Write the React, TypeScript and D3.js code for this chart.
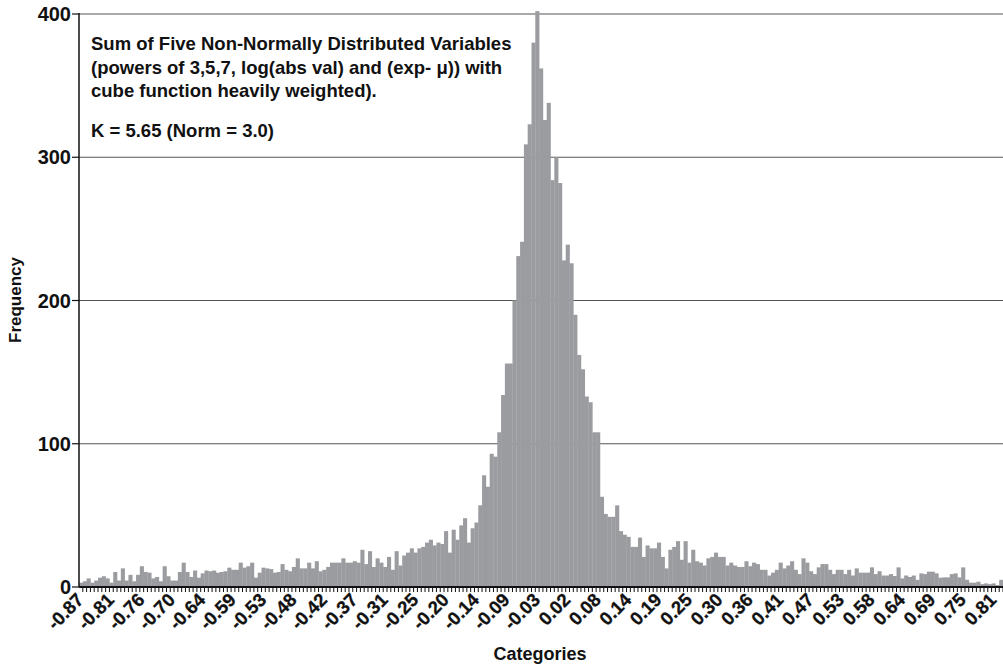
import React from "react";
import * as d3 from "d3";

// Frequency of each category bin
const frequencies: number[] = [
  3, 4, 6, 3, 4.5, 6.5, 7.5, 6, 3, 10.5, 4.5, 13, 4.5, 8.5, 4, 8.5, 14.5, 10.5, 10, 6,
  7, 4, 14.5, 7.5, 4.5, 4.5, 10.5, 17, 10.5, 7, 11.5, 6.5, 9.5, 11.5, 11, 11.5, 10, 10.5, 11, 13.5,
  12, 12, 17, 13.5, 14.5, 17, 6.5, 10, 13.5, 13,
  12.5, 10, 10.5, 16, 12, 11, 14, 20, 13, 13, 17, 13, 18, 11, 12, 14, 17, 17, 17, 20,
  17, 17, 18, 17, 26, 16, 25, 14, 20, 17, 14, 21, 12, 25, 15, 22, 24, 27, 24, 27,
  28, 31, 33, 29, 31, 30, 39, 24, 40, 33,
  43, 48, 31, 41, 45, 57, 78, 70, 93, 91, 108, 134, 156, 156, 200, 231, 241, 309, 323, 380,
  402, 362, 326, 338, 284, 300, 282, 228, 239, 226, 190, 162, 152, 133, 129, 108, 108, 63,
  51, 49, 49, 57, 39, 36.5, 35, 28, 28, 34.5, 21, 29, 27, 27, 31, 21, 13, 26, 28, 32,
  19, 32, 17, 26, 18, 17, 15, 20, 21, 24, 21, 21, 15, 17, 15, 14, 14, 18, 14.5, 17,
  16, 12, 12, 8, 10, 12, 17, 13, 15, 18, 12,
  9, 20, 17, 11, 9, 13.7, 16, 16, 12, 9, 12, 12, 9, 12, 8, 13, 10, 10, 10, 13.7,
  9, 11, 8, 8, 9, 7.7, 13.7, 6, 8, 7, 8, 5, 9.5, 9, 10.7, 10.7, 9.5, 6.5, 6.7, 6.7,
  9, 9.5, 6.7, 13.7, 5, 3, 3, 3.7, 2, 2.5, 2, 2.5, 1.4, 5,
];

// Category tick labels (every 8th bin)
const tickLabels: string[] = [
  "-0.87", "-0.81", "-0.76", "-0.70", "-0.64", "-0.59", "-0.53", "-0.48", "-0.42", "-0.37",
  "-0.31", "-0.25", "-0.20", "-0.14", "-0.09", "-0.03", "0.02", "0.08", "0.14", "0.19",
  "0.25", "0.30", "0.36", "0.41", "0.47", "0.53", "0.58", "0.64", "0.69", "0.75", "0.81",
];
const labelEvery = 8;

const yTicks: number[] = [0, 100, 200, 300, 400];

const noteLines: string[] = [
  "Sum of Five Non-Normally Distributed Variables",
  "(powers of 3,5,7, log(abs val) and (exp- \u03bc)) with",
  "cube function heavily weighted).",
];
const noteK = "K = 5.65 (Norm = 3.0)";

const W = 1003;
const H = 666;
const left = 79;
const right = 1003;
const top = 14;
const bottom = 587;
const FONT = "'Liberation Sans', Arial, Helvetica, sans-serif";

export default function App() {
  const bins = frequencies.map((_, i) => i);
  const x = d3.scaleBand<number>().domain(bins).range([left, right]).padding(0);
  const y = d3.scaleLinear().domain([0, 400]).range([bottom, top]);
  const bw = x.bandwidth();

  return (
    <svg
      width={W}
      height={H}
      viewBox={`0 0 ${W} ${H}`}
      style={{ position: "absolute", left: 0, top: 0, background: "#fff" }}
      fontFamily={FONT}
    >
      {/* gridlines */}
      {yTicks
        .filter((t) => t > 0)
        .map((t) => (
          <line key={t} x1={left} x2={right} y1={y(t)} y2={y(t)} stroke="#555" strokeWidth={1.2} />
        ))}
      {/* bars */}
      {frequencies.map((v, i) => (
        <rect
          key={i}
          x={x(i)!}
          y={y(v)}
          width={bw + 0.3}
          height={bottom - y(v)}
          fill="#9b9ca0"
        />
      ))}
      {/* y axis */}
      <line x1={left} x2={left} y1={top - 1} y2={bottom} stroke="#111" strokeWidth={1.5} />
      {yTicks.map((t) => (
        <g key={t}>
          <line x1={left - 7} x2={left} y1={y(t)} y2={y(t)} stroke="#111" strokeWidth={1.2} />
          <text
            x={left - 8}
            y={y(t)}
            dy="0.36em"
            textAnchor="end"
            fontWeight="bold"
            fontSize={20}
            fill="#111"
          >
            {t}
          </text>
        </g>
      ))}
      {/* x axis */}
      <line x1={left} x2={right} y1={bottom} y2={bottom} stroke="#111" strokeWidth={1.8} />
      {bins.map((i) => (
        <line
          key={i}
          x1={x(i)! + bw}
          x2={x(i)! + bw}
          y1={bottom}
          y2={bottom + 5}
          stroke="#111"
          strokeWidth={1}
        />
      ))}
      {tickLabels.map((lab, k) => {
        const i = k * labelEvery;
        const cx = x(i)! + bw / 2;
        return (
          <text
            key={lab}
            transform={`translate(${cx + 4},${bottom + 14}) rotate(-45)`}
            textAnchor="end"
            fontWeight="bold"
            fontSize={18.5}
            fill="#111"
            stroke="#111"
            strokeWidth={0.3}
          >
            {lab}
          </text>
        );
      })}
      {/* axis titles */}
      <text x={540} y={660} textAnchor="middle" fontWeight="bold" fontSize={18} fill="#111">
        Categories
      </text>
      <text
        transform={`translate(21,300) rotate(-90)`}
        textAnchor="middle"
        fontWeight="bold"
        fontSize={17}
        fill="#111"
      >
        Frequency
      </text>
      {/* annotation */}
      {noteLines.map((l, k) => (
        <text key={k} x={91} y={50 + k * 23.5} fontWeight="bold" fontSize={18.5} fill="#111">
          {l}
        </text>
      ))}
      <text x={91} y={137} fontWeight="bold" fontSize={18.5} fill="#111">
        {noteK}
      </text>
    </svg>
  );
}
